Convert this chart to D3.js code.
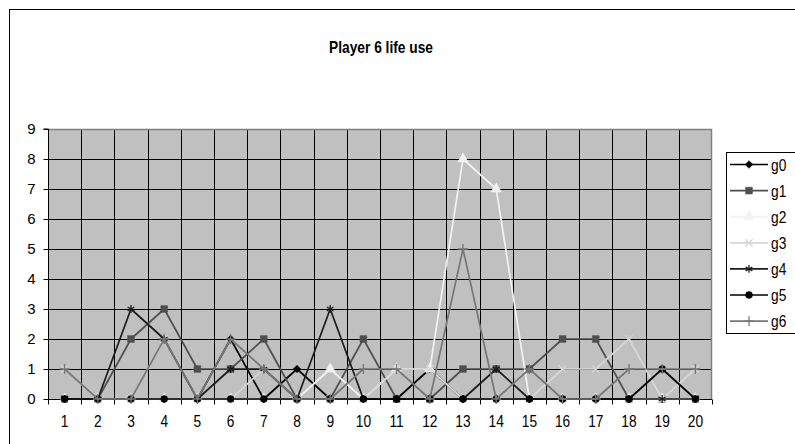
<!DOCTYPE html>
<html>
<head>
<meta charset="utf-8">
<script src="https://cdn.jsdelivr.net/npm/d3@7"></script>
<style>
  html, body { margin: 0; padding: 0; background: #fff; }
  svg { display: block; font-family: "Liberation Sans", Arial, sans-serif; }
</style>
</head>
<body>
<svg id="chart" width="795" height="444"></svg>
<script>
// Rounds 1..20 and the count of lives used per game in each round
const rounds = d3.range(1, 21);
const yTicks = d3.range(0, 10);
const seriesNames = ["g0", "g1", "g2", "g3", "g4", "g5", "g6"];

const g0 = [0, 0, 0, 0, 0, 2, 0, 1, 0, 0, 0, 1, 0, 0, 0, 0, 0, 0, 0, 0];
const g1 = [0, 0, 2, 3, 1, 1, 2, 0, 0, 2, 0, 0, 1, 1, 1, 2, 2, 0, 0, 0];
const g2 = [0, 0, 0, 0, 0, 0, 0, 0, 1, 0, 1, 1, 8, 7, 0, 0, 0, 0, 0, 0];
const g3 = [1, 0, 0, 2, 0, 0, 1, 0, 0, 0, 1, 1, 0, 0, 0, 1, 1, 2, 0, 1];
const g4 = [0, 0, 3, 2, 0, 1, 1, 0, 3, 0, 0, 0, 0, 1, 0, 0, 0, 0, 0, 0];
const g5 = [0, 0, 0, 0, 0, 0, 0, 0, 0, 0, 0, 0, 0, 0, 0, 0, 0, 0, 1, 0];
const g6 = [1, 0, 0, 2, 0, 2, 1, 0, 0, 1, 1, 0, 5, 0, 1, 0, 0, 1, 1, 1];

const seriesValues = [g0, g1, g2, g3, g4, g5, g6];

// Per-series look: line colour, marker shape, whether the marker is filled.
// The diamond is a square turned by 45 degrees.
const styles = [
  { color: "#000000", symbol: d3.symbolSquare, size: 30, rotate: 45, fill: true },
  { color: "#4f4f4f", symbol: d3.symbolSquare, size: 46, rotate: 0, fill: true },
  { color: "#f2f2f2", symbol: d3.symbolTriangle, size: 48, rotate: 0, fill: true },
  { color: "#d6d6d6", symbol: d3.symbolTimes, size: 36, rotate: 0, fill: false },
  { color: "#1c1c1c", symbol: d3.symbolAsterisk, size: 42, rotate: 0, fill: false },
  { color: "#000000", symbol: d3.symbolCircle, size: 38, rotate: 0, fill: true },
  { color: "#777777", symbol: d3.symbolPlus, size: 34, rotate: 0, fill: false }
];

// Text is drawn slightly condensed, in the manner of a narrow sans face
const NARROW = 0.86;
const svg = d3.select("#chart");

// Chart frame
svg.append("rect")
  .attr("x", 9.5).attr("y", 9.5)
  .attr("width", 800).attr("height", 460)
  .attr("fill", "#fff").attr("stroke", "#000").attr("stroke-width", 1);

svg.append("text")
  .attr("transform", `translate(381,53) scale(${NARROW},1)`)
  .attr("text-anchor", "middle")
  .attr("font-size", 16).attr("font-weight", "bold")
  .text("Player 6 life use");

const plot = { left: 48, right: 712, top: 129, bottom: 399 };

const x = d3.scaleBand().domain(rounds).range([plot.left, plot.right]);
const y = d3.scaleLinear().domain([0, 9]).range([plot.bottom, plot.top]);

// Plot area
svg.append("rect")
  .attr("x", plot.left).attr("y", plot.top)
  .attr("width", plot.right - plot.left).attr("height", plot.bottom - plot.top)
  .attr("fill", "#c0c0c0");

// Horizontal gridlines
svg.append("g").selectAll("line")
  .data(yTicks.filter(d => d > 0))
  .join("line")
  .attr("x1", plot.left).attr("x2", plot.right)
  .attr("y1", d => Math.round(y(d)) + 0.5).attr("y2", d => Math.round(y(d)) + 0.5)
  .attr("stroke", "#000").attr("stroke-width", 1);

// Vertical gridlines at round boundaries
svg.append("g").selectAll("line")
  .data(rounds.slice(1))
  .join("line")
  .attr("x1", d => Math.round(x(d)) + 0.5).attr("x2", d => Math.round(x(d)) + 0.5)
  .attr("y1", plot.top).attr("y2", plot.bottom)
  .attr("stroke", "#000").attr("stroke-width", 1);

// Right and top edges of the plot area
svg.append("path")
  .attr("d", `M${plot.left},${plot.top + 0.5}H${plot.right - 0.5}V${plot.bottom}`)
  .attr("fill", "none").attr("stroke", "#808080").attr("stroke-width", 1.5);

// Y axis
const yAxis = svg.append("g")
  .attr("transform", `translate(${plot.left + 0.5},0)`)
  .call(d3.axisLeft(y).tickValues(yTicks).tickSize(5).tickPadding(8).tickFormat(d3.format("d")));
yAxis.selectAll("path, line").attr("stroke", "#000");
yAxis.select(".domain").attr("d", `M-5,${plot.top}H0V${plot.bottom}`);
yAxis.selectAll("text").attr("font-size", 15).attr("fill", "#000")
  .attr("font-family", "'Liberation Sans', Arial, sans-serif");

// X axis: ticks on round boundaries, labels centred in each band
const xAxisG = svg.append("g")
  .attr("transform", `translate(0,${plot.bottom + 0.5})`);
xAxisG.append("line")
  .attr("x1", plot.left).attr("x2", plot.right)
  .attr("stroke", "#000");
xAxisG.selectAll("line.tick")
  .data(rounds.concat([21]))
  .join("line").attr("class", "tick")
  .attr("x1", d => Math.round(d <= 20 ? x(d) : plot.right) + 0.5)
  .attr("x2", d => Math.round(d <= 20 ? x(d) : plot.right) + 0.5)
  .attr("y1", 0).attr("y2", 5)
  .attr("stroke", "#000");
xAxisG.selectAll("text")
  .data(rounds)
  .join("text")
  .attr("transform", d => `translate(${x(d) + x.bandwidth() / 2},27) scale(${NARROW},1)`)
  .attr("text-anchor", "middle")
  .attr("font-size", 16)
  .text(d => d);

// Series lines and markers
const line = d3.line()
  .x((d, i) => x(rounds[i]) + x.bandwidth() / 2)
  .y(d => y(d));

const seriesG = svg.append("g");
seriesValues.forEach((vals, k) => {
  const st = styles[k];
  const g = seriesG.append("g").attr("class", seriesNames[k]);
  g.append("path")
    .datum(vals)
    .attr("d", line)
    .attr("fill", "none")
    .attr("stroke", st.color)
    .attr("stroke-width", 1.7)
    .attr("stroke-linejoin", "round");
  g.selectAll("path.marker")
    .data(vals)
    .join("path").attr("class", "marker")
    .attr("transform", (d, i) =>
      `translate(${x(rounds[i]) + x.bandwidth() / 2},${y(d)}) rotate(${st.rotate})`)
    .attr("d", d3.symbol().type(st.symbol).size(st.size))
    .attr("fill", st.fill ? st.color : "none")
    .attr("stroke", st.color)
    .attr("stroke-width", st.fill ? 0.5 : 1.3);
});

// Legend
const legend = svg.append("g");
legend.append("rect")
  .attr("x", 726.5).attr("y", 152.5)
  .attr("width", 80).attr("height", 181)
  .attr("fill", "#fff").attr("stroke", "#000");
const item = legend.selectAll("g.item")
  .data(seriesNames)
  .join("g").attr("class", "item")
  .attr("transform", (d, i) => `translate(0,${164.5 + i * 26.1})`);
item.append("line")
  .attr("x1", 730).attr("x2", 768)
  .attr("stroke", (d, i) => styles[i].color)
  .attr("stroke-width", 1.7);
item.append("path")
  .attr("transform", (d, i) => `translate(749,0) rotate(${styles[i].rotate})`)
  .attr("d", (d, i) => d3.symbol().type(styles[i].symbol).size(styles[i].size)())
  .attr("fill", (d, i) => styles[i].fill ? styles[i].color : "none")
  .attr("stroke", (d, i) => styles[i].color)
  .attr("stroke-width", (d, i) => styles[i].fill ? 0.5 : 1.3);
item.append("text")
  .attr("transform", `translate(771,6) scale(${NARROW},1)`)
  .attr("font-size", 16)
  .text(d => d);
</script>
</body>
</html>
